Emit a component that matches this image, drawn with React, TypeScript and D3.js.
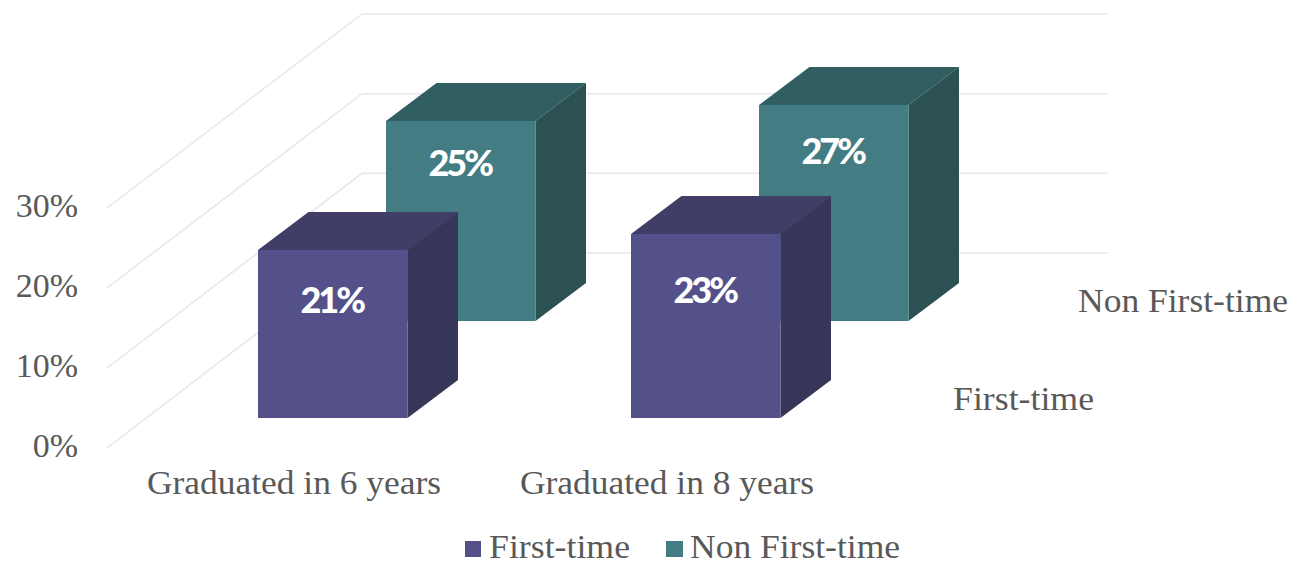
import React from "react";
import * as d3 from "d3";

const categories = ["Graduated in 6 years", "Graduated in 8 years"];
const seriesNames = ["First-time", "Non First-time"];
const firstTime = [21, 23];
const nonFirstTime = [25, 27];
const ticks = [0, 10, 20, 30];

const W = 1293, H = 565;
const SERIF = "'Liberation Serif', serif";
const TXT = "#595959";
const GRID = "#e7e7e7";

// front-face floor line of each series, moving back in depth
const depth = d3.scalePoint<string>().domain(seriesNames).range([0, 1]);
const floorY = d3.scaleLinear().domain([0, 1]).range([418, 321]);
const depthX = d3.scaleLinear().domain([0, 1]).range([0, 128]);
const catX = d3.scalePoint<string>().domain(categories).range([258, 631]);
const barH = d3.scaleLinear().domain([0, 30]).range([0, 240]);
// wall of the plot
const wallFront = d3.scaleLinear().domain([0, 30]).range([448, 208]);
const wallBack = d3.scaleLinear().domain([0, 30]).range([253, 14]);

const barW = 149.5;
const dx = 50.5, dy = -38;

const styles = [
  { front: "#54518a", top: "#403d66", side: "#363658", labelFrac: 0.625 },
  { front: "#437c83", top: "#315e60", side: "#2b5153", labelFrac: 0.725 },
];

const poly = (pts: [number, number][]) => pts.map((p) => p.join(",")).join(" ");

function Bar({ cat, name, value, s }: { cat: string; name: string; value: number; s: typeof styles[0] }) {
  const d = depth(name)!;
  const x0 = catX(cat)! + depthX(d);
  const x1 = x0 + barW;
  const yb = floorY(d);
  const h = barH(value);
  const yt = yb - h;
  return (
    <g>
      <polygon points={poly([[x0, yt], [x1, yt], [x1 + dx, yt + dy], [x0 + dx, yt + dy]])} fill={s.top} />
      <polygon points={poly([[x1, yt], [x1 + dx, yt + dy], [x1 + dx, yb + dy], [x1, yb]])} fill={s.side} />
      <rect x={x0} y={yt} width={barW} height={h} fill={s.front} />
      <text
        x={(x0 + x1) / 2 - 1}
        y={yb - h * s.labelFrac}
        textAnchor="middle"
        fontFamily="Lato, sans-serif"
        fontWeight={900}
        fontSize={36}
        letterSpacing={-3}
        fill="#ffffff"
      >
        {value}%
      </text>
    </g>
  );
}

export default function App() {
  const rows = [
    { name: seriesNames[1], values: nonFirstTime, s: styles[1] },
    { name: seriesNames[0], values: firstTime, s: styles[0] },
  ];
  const textProps = { fontFamily: SERIF, fontSize: 34, fill: TXT };
  return (
    <svg width={W} height={H} viewBox={`0 0 ${W} ${H}`} style={{ position: "absolute", left: 0, top: 0, background: "#fff" }}>
      {ticks.map((t) => (
        <g key={t}>
          <polyline points={poly([[107, wallFront(t)], [362, wallBack(t)], [1108, wallBack(t)]])} fill="none" stroke={GRID} strokeWidth={1.5} />
          <text x={78} y={wallFront(t) + 9} textAnchor="end" {...textProps}>{t}%</text>
        </g>
      ))}
      {rows.map((r) =>
        categories.map((c, i) => <Bar key={r.name + c} cat={c} name={r.name} value={r.values[i]} s={r.s} />)
      )}
      {categories.map((c) => (
        <text key={c} x={catX(c)! - 111} y={494} {...textProps} textLength={294} lengthAdjust="spacingAndGlyphs">{c}</text>
      ))}
      <text x={1078} y={312} {...textProps} textLength={210} lengthAdjust="spacingAndGlyphs">{seriesNames[1]}</text>
      <text x={953} y={410} {...textProps} textLength={141} lengthAdjust="spacingAndGlyphs">{seriesNames[0]}</text>
      <rect x={465} y={541} width={16} height={16} fill={styles[0].front} />
      <text x={489} y={558} {...textProps} textLength={141} lengthAdjust="spacingAndGlyphs">{seriesNames[0]}</text>
      <rect x={666} y={541} width={17} height={16} fill={styles[1].front} />
      <text x={690} y={558} {...textProps} textLength={210} lengthAdjust="spacingAndGlyphs">{seriesNames[1]}</text>
    </svg>
  );
}
